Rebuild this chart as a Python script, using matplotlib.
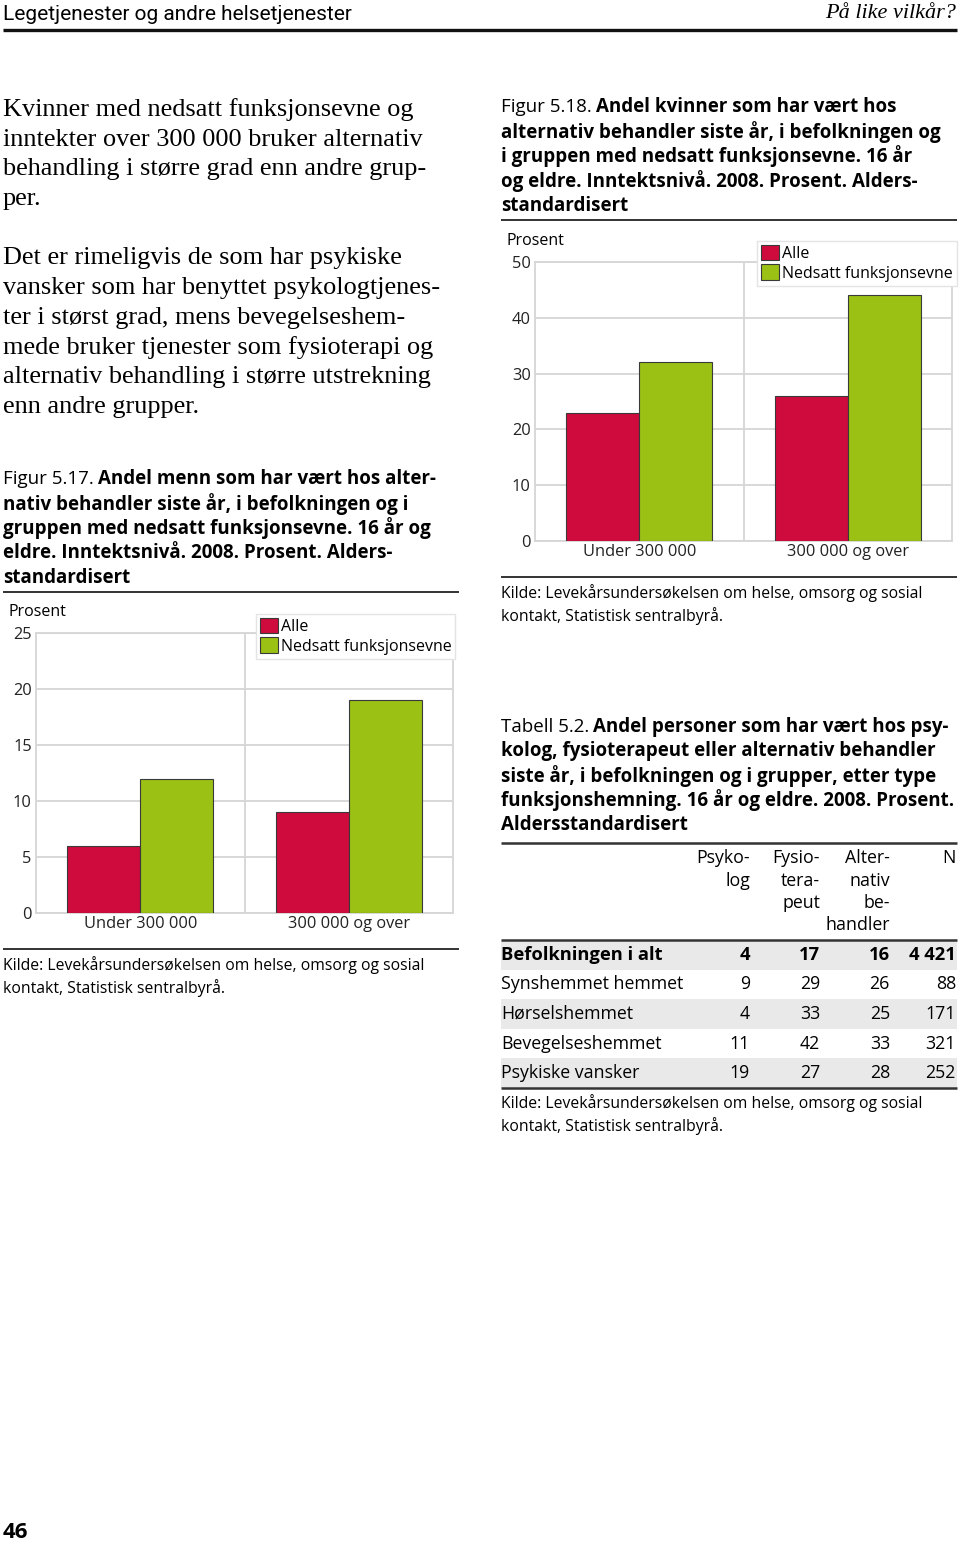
import numpy as np
import matplotlib.pyplot as plt

# chart data
categories = ['Under 300 000', '300 000 og over']
series = ['Alle', 'Nedsatt funksjonsevne']
menn_alle = [6, 9]
menn_nedsatt = [12, 19]
kvinner_alle = [23, 26]
kvinner_nedsatt = [32, 44]

# table data
tab_rows = ['Befolkningen i alt', 'Synshemmet hemmet', 'Hørselshemmet',
            'Bevegelseshemmet', 'Psykiske vansker']
tab_cols = ['Psyko-\nlog', 'Fysio-\ntera-\npeut', 'Alter-\nnativ\nbe-\nhandler', 'N']
psykolog = [4, 9, 4, 11, 19]
fysioterapeut = [17, 29, 33, 42, 27]
alternativ = [16, 26, 25, 33, 28]
n_resp = [4421, 88, 171, 321, 252]

RED = '#cf0a3c'
GREEN = '#9ac114'
GRID = '#d6d6d6'
SANS = ['Open Sans', 'DejaVu Sans']
SERIF = ['Liberation Serif', 'DejaVu Serif']

W, H = 960, 1545
fig = plt.figure(figsize=(W / 100, H / 100), dpi=100)
pg = fig.add_axes([0, 0, 1, 1])
pg.set_xlim(0, W)
pg.set_ylim(H, 0)
pg.axis('off')
renderer = fig.canvas.get_renderer()


def rule(x0, x1, y, lw=1.4, color='#333333'):
    pg.plot([x0, x1], [y, y], color=color, lw=lw, solid_capstyle='butt')


def caption(x, ys, prefix, lines, fs=13.5):
    t = pg.text(x, ys[0], prefix, fontsize=fs, family=SANS, va='center')
    w = t.get_window_extent(renderer).width
    pg.text(x + w + 4, ys[0], lines[0], fontsize=fs, family=SANS,
            weight='bold', va='center')
    for y, s in zip(ys[1:], lines[1:]):
        pg.text(x, y, s, fontsize=fs, family=SANS, weight='bold', va='center')


def source(x, y):
    pg.text(x, y, 'Kilde: Levekårsundersøkelsen om helse, omsorg og sosial',
            fontsize=11.3, family=SANS, va='center')
    pg.text(x, y + 23, 'kontakt, Statistisk sentralbyrå.',
            fontsize=11.3, family=SANS, va='center')


# page header
pg.text(3, 14, 'Legetjenester og andre helsetjenester', fontsize=15,
        family=['Roboto', 'DejaVu Sans'], va='center')
pg.text(956, 14, 'På like vilkår?', fontsize=16, family=SERIF, style='italic',
        ha='right', va='center')
rule(3, 957, 30, lw=2.4, color='#111111')

# body text
para1 = ['Kvinner med nedsatt funksjonsevne og',
         'inntekter over 300 000 bruker alternativ',
         'behandling i større grad enn andre grup-',
         'per.']
para2 = ['Det er rimeligvis de som har psykiske',
         'vansker som har benyttet psykologtjenes-',
         'ter i størst grad, mens bevegelseshem-',
         'mede bruker tjenester som fysioterapi og',
         'alternativ behandling i større utstrekning',
         'enn andre grupper.']
for i, s in enumerate(para1):
    pg.text(3, 110 + i * 29.7, s, fontsize=18.9, family=SERIF, va='center')
for i, s in enumerate(para2):
    pg.text(3, 258 + i * 29.8, s, fontsize=18.9, family=SERIF, va='center')


def bar_chart(rect, alle, nedsatt, ymax, step, leg_xy):
    x0, y0, x1, y1 = rect
    ax = fig.add_axes([x0 / W, 1 - y1 / H, (x1 - x0) / W, (y1 - y0) / H])
    x = np.arange(len(categories))
    bw = 0.35
    ax.bar(x - bw / 2, alle, bw, color=RED, edgecolor='#3a3a3a', lw=0.8,
           label=series[0], zorder=3)
    ax.bar(x + bw / 2, nedsatt, bw, color=GREEN, edgecolor='#3a3a3a', lw=0.8,
           label=series[1], zorder=3)
    ax.set_xlim(-0.5, len(categories) - 0.5)
    ax.set_ylim(0, ymax)
    ax.set_yticks(np.arange(0, ymax + 1, step))
    ax.set_xticks(x)
    ax.set_xticklabels(categories)
    ax.tick_params(length=0, labelsize=11.8, colors='#222222')
    ax.tick_params(axis='y', pad=3)
    ax.tick_params(axis='x', pad=2)
    for lab in ax.get_xticklabels() + ax.get_yticklabels():
        lab.set_family(SANS)
    ax.grid(axis='y', color=GRID, lw=1.3, zorder=1)
    ax.axvline(0.5, color=GRID, lw=1.3, zorder=1)
    for sp in ax.spines.values():
        sp.set_color(GRID)
        sp.set_linewidth(1.3)
    leg = ax.legend(loc='upper left', bbox_to_anchor=(leg_xy[0] / W, 1 - leg_xy[1] / H),
                    bbox_transform=fig.transFigure, frameon=True, fancybox=False,
                    edgecolor='#e4e4e4', framealpha=1, borderpad=0.25,
                    handlelength=1.15, handleheight=1.1, handletextpad=0.15,
                    labelspacing=0.15, borderaxespad=0,
                    prop={'family': SANS, 'size': 11.5})
    leg.get_frame().set_linewidth(1.0)
    pg.text(x0 - 28, y0 - 21, 'Prosent', fontsize=11.5, family=SANS, va='center')
    return ax


# figure 5.18 (right column, top)
caption(501, [107, 132, 156, 181, 206], 'Figur 5.18.',
        ['Andel kvinner som har vært hos',
         'alternativ behandler siste år, i befolkningen og',
         'i gruppen med nedsatt funksjonsevne. 16 år',
         'og eldre. Inntektsnivå. 2008. Prosent. Alders-',
         'standardisert'])
rule(501, 957, 220)
bar_chart((535, 262, 952, 541), kvinner_alle, kvinner_nedsatt, 50, 10, (757, 241))
rule(501, 957, 577)
source(501, 593)

# figure 5.17 (left column)
caption(3, [479, 504, 528, 553, 578], 'Figur 5.17.',
        ['Andel menn som har vært hos alter-',
         'nativ behandler siste år, i befolkningen og i',
         'gruppen med nedsatt funksjonsevne. 16 år og',
         'eldre. Inntektsnivå. 2008. Prosent. Alders-',
         'standardisert'])
rule(3, 459, 592)
bar_chart((36, 633, 453, 913), menn_alle, menn_nedsatt, 25, 5, (256, 614))
rule(3, 459, 949)
source(3, 965)

# table 5.2
caption(501, [727, 751, 776, 800, 825], 'Tabell 5.2.',
        ['Andel personer som har vært hos psy-',
         'kolog, fysioterapeut eller alternativ behandler',
         'siste år, i befolkningen og i grupper, etter type',
         'funksjonshemning. 16 år og eldre. 2008. Prosent.',
         'Aldersstandardisert'])
rule(501, 957, 843, lw=1.8)
col_right = [750, 820, 890, 956]
for xr, head in zip(col_right, tab_cols):
    for j, s in enumerate(head.split('\n')):
        pg.text(xr, 858 + j * 22.5, s, fontsize=12.8, family=SANS,
                ha='right', va='center')
rule(501, 957, 940, lw=1.8)
row_top = 940
row_h = 29.6
for i, name in enumerate(tab_rows):
    yc = row_top + row_h * (i + 0.5)
    if i % 2 == 0:
        pg.add_patch(plt.Rectangle((501, row_top + row_h * i), 456, row_h,
                                   color='#e9e9e9', lw=0, zorder=0))
    wt = 'bold' if i == 0 else 'normal'
    fs = 13.2 if i == 0 else 12.8
    vals = [psykolog[i], fysioterapeut[i], alternativ[i],
            f'{n_resp[i]:,}'.replace(',', ' ')]
    pg.text(501, yc, name, fontsize=fs, family=SANS, weight=wt, va='center')
    for xr, v in zip(col_right, vals):
        pg.text(xr, yc, str(v), fontsize=fs, family=SANS, weight=wt,
                ha='right', va='center')
rule(501, 957, row_top + row_h * len(tab_rows), lw=1.8)
source(501, 1103)

# page number
pg.text(3, 1532, '46', fontsize=16, family=SANS, weight='bold', va='center')

fig.savefig('out.png', dpi=100)
